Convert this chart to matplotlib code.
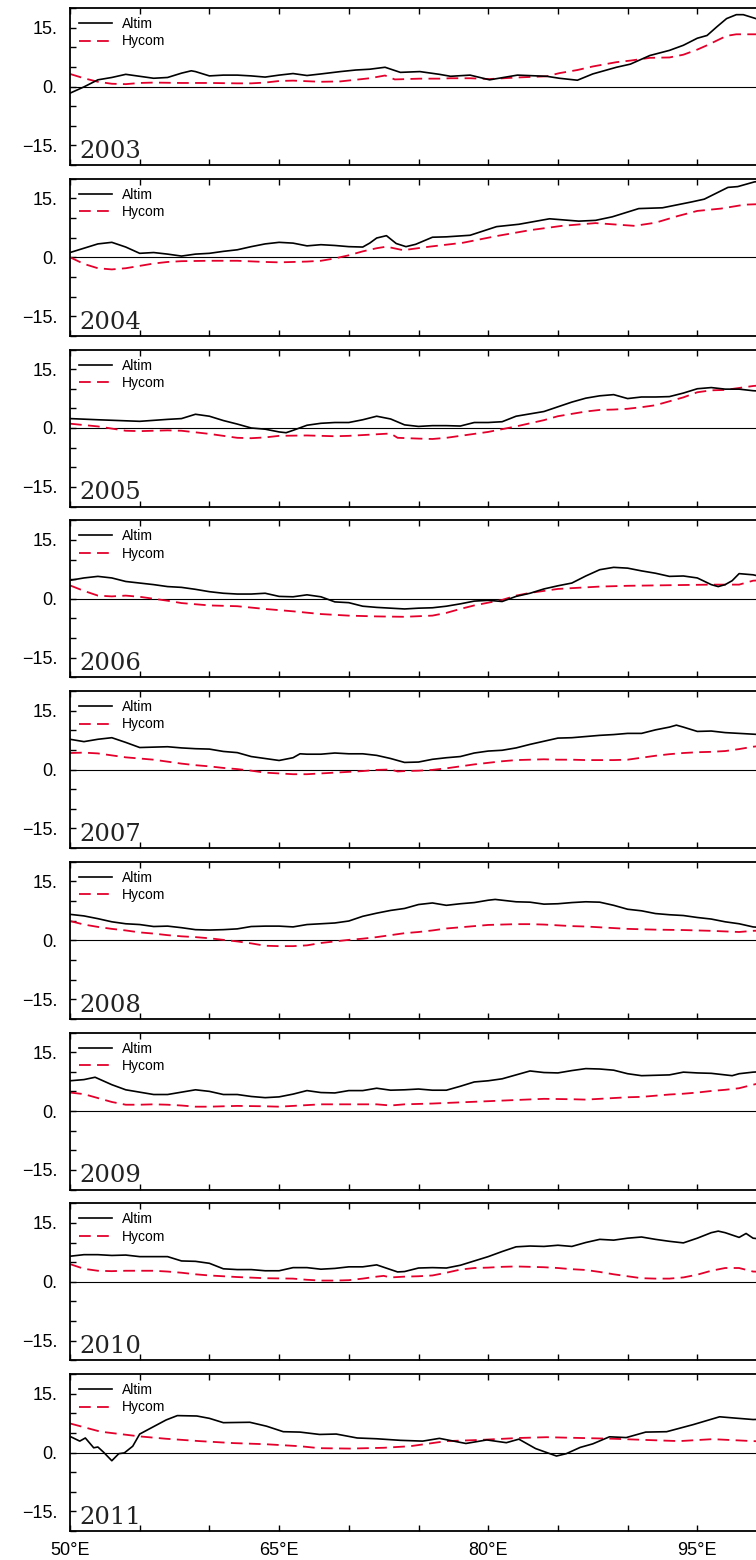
import matplotlib
matplotlib.use("Agg")
import matplotlib.pyplot as plt
from matplotlib.ticker import FixedLocator, MultipleLocator, NullFormatter

# ---------------- data ----------------
years = ["2003", "2004", "2005", "2006", "2007", "2008", "2009", "2010", "2011"]

alt03_lon = [50, 51, 52, 53, 54, 55, 56, 57, 58, 58.7, 59, 60, 61, 62, 63, 64, 65, 66, 67, 68,
             69.4, 70.5, 71.5, 72.6, 73.7, 75.1, 76.5, 77.3, 78.7, 80.1, 82.1, 84.2, 85.1, 86.4, 87.5,
             89.2, 90.2, 91.6, 93.0, 94.0, 95.0, 95.7, 96.4, 97.1, 97.8, 98.3, 99.2, 100]
alt03 = [-1.7, -0.1, 1.7, 2.3, 3.1, 2.6, 2.1, 2.3, 3.4, 4.0, 3.8, 2.7, 2.9, 2.9, 2.7, 2.4, 2.9, 3.3, 2.8, 3.2,
         3.8, 4.2, 4.4, 4.9, 3.6, 3.8, 3.1, 2.6, 2.9, 1.7, 2.9, 2.6, 2.1, 1.6, 3.2,
         4.9, 5.7, 7.9, 9.2, 10.5, 12.3, 13.0, 15.2, 17.3, 18.3, 18.3, 17.3, 16.5]
hyc03_lon = [50, 51, 52, 53, 54, 55, 56, 58, 60, 62, 63, 64, 65, 66, 68, 69.4, 71.5, 72.6, 73.3, 75.1,
             76.5, 77.3, 78.7, 80.1, 82.1, 84.2, 85.1, 86.4, 87.5, 89.2, 90.2, 91.6, 93.0, 94.0, 95.0,
             95.7, 96.4, 97.1, 97.8, 98.3, 99.2, 100]
hyc03 = [3.2, 2.1, 1.2, 0.7, 0.6, 0.9, 1.0, 0.9, 0.9, 0.8, 0.8, 1.0, 1.4, 1.5, 1.2, 1.3, 2.1, 2.8, 1.8, 2.0,
         2.0, 2.1, 2.1, 1.9, 2.3, 2.6, 3.4, 4.2, 5.1, 6.2, 6.6, 7.3, 7.4, 8.1, 9.4,
         10.5, 11.7, 12.9, 13.3, 13.3, 13.3, 13.3]

alt04_lon = [50, 51, 52, 53, 54, 55, 56, 57, 58, 59, 60, 61, 62, 63, 64, 65, 66, 67, 68, 69,
             70, 71, 71.5, 72, 72.7, 73.4, 74.1, 74.8, 76.0, 77.0, 78.7, 80.6, 82.2, 84.4, 86.5,
             87.7, 88.9, 90.8, 92.5, 94.6, 95.5, 97.2, 97.9, 99.1, 100]
alt04 = [1.2, 2.3, 3.4, 3.8, 2.6, 1.0, 1.2, 0.8, 0.3, 0.8, 1.0, 1.5, 1.9, 2.7, 3.4, 3.8, 3.6, 2.9, 3.2, 3.0,
         2.7, 2.6, 3.6, 4.9, 5.5, 3.5, 2.7, 3.3, 5.1, 5.2, 5.6, 7.8, 8.4, 9.8, 9.2,
         9.4, 10.3, 12.4, 12.6, 14.1, 14.8, 17.8, 18.0, 19.2, 19.5]
hyc04_lon = [50, 51, 52, 53, 54, 55, 56, 57, 58, 60, 62, 64, 65, 66, 67, 68, 69, 70, 71, 72,
             72.7, 73.9, 75.8, 78.2, 80.6, 83.0, 85.3, 87.7, 88.9, 90.5, 92.0, 93.6, 95.0, 96.7, 98.4, 100]
hyc04 = [0.0, -1.7, -2.8, -3.1, -2.8, -2.2, -1.6, -1.2, -1.0, -0.9, -0.9, -1.2, -1.3, -1.2, -1.1, -0.9, -0.3, 0.5, 1.5, 2.3,
         2.7, 1.8, 2.7, 3.7, 5.4, 6.9, 8.0, 8.7, 8.4, 8.0, 8.8, 10.5, 11.8, 12.4, 13.4, 13.6]

alt05_lon = [50, 52, 55, 57, 58, 59, 60, 61, 62, 63, 64, 65, 65.5, 66, 67, 68, 69, 70, 71, 72,
             73, 74, 75, 76, 77, 78, 79, 80, 81, 82, 83, 84, 85, 86, 87, 88, 89, 90, 91, 92,
             93, 94, 95, 96, 97, 98, 99, 100]
alt05 = [2.4, 2.1, 1.7, 2.2, 2.4, 3.5, 3.0, 1.9, 1.0, 0.0, -0.3, -1.0, -1.2, -0.6, 0.7, 1.2, 1.4, 1.4, 2.1, 3.0,
         2.3, 0.8, 0.4, 0.6, 0.6, 0.5, 1.4, 1.4, 1.6, 3.0, 3.6, 4.2, 5.4, 6.6, 7.6, 8.2, 8.5, 7.5, 7.9, 7.9,
         8.0, 8.9, 10.0, 10.3, 9.9, 9.9, 9.5, 9.3]
hyc05_lon = [50, 52, 54, 55, 57, 58, 60, 62, 63, 64, 65, 67, 69, 70, 72, 73, 73.5, 75, 76, 77,
             78, 79, 80, 81, 82, 83, 84, 85, 86, 87, 88, 89, 90, 91, 92, 93, 94, 95, 96, 97,
             98, 99, 100]
hyc05 = [1.1, 0.4, -0.7, -0.8, -0.6, -0.7, -1.5, -2.5, -2.6, -2.4, -2.0, -1.9, -2.1, -2.0, -1.6, -1.4, -2.5, -2.7, -2.8, -2.5,
         -2.0, -1.5, -1.0, -0.3, 0.4, 1.2, 2.0, 3.0, 3.6, 4.2, 4.6, 4.7, 4.9, 5.3, 5.8, 6.8, 7.8, 9.1, 9.6, 9.7,
         10.2, 10.7, 11.0]

alt06_lon = [50, 51, 52, 53, 54, 55, 56, 57, 58, 59, 60, 61, 62, 63, 64, 65, 66, 67, 68, 69,
             70, 71, 72, 73, 74, 75, 76, 77, 78, 79, 80, 81, 82, 83, 84, 85, 86, 87, 88, 89,
             90, 91, 92, 93, 94, 95, 96, 96.5, 97, 97.5, 98, 99, 100]
alt06 = [4.7, 5.3, 5.7, 5.3, 4.4, 4.0, 3.6, 3.1, 2.9, 2.4, 1.8, 1.4, 1.2, 1.2, 1.4, 0.6, 0.5, 1.0, 0.5, -0.8,
         -1.0, -1.9, -2.2, -2.4, -2.6, -2.4, -2.3, -1.9, -1.3, -0.6, -0.4, -0.7, 0.6, 1.4, 2.5, 3.3, 4.0, 5.8, 7.4, 8.0,
         7.8, 7.1, 6.5, 5.7, 5.8, 5.3, 3.6, 3.1, 3.6, 4.6, 6.4, 6.1, 5.3]
hyc06_lon = [50, 51, 52, 53, 54, 55, 56, 57, 58, 59, 60, 62, 64, 66, 68, 70, 72, 74, 76, 77,
             78, 79, 80, 81, 82, 83, 84, 85, 86, 88, 90, 92, 94, 96, 97, 98, 99, 100]
hyc06 = [3.4, 2.0, 0.8, 0.6, 0.8, 0.5, 0.0, -0.5, -1.1, -1.4, -1.7, -1.9, -2.6, -3.2, -3.9, -4.3, -4.5, -4.6, -4.3, -3.6,
         -2.6, -1.7, -1.0, -0.3, 0.8, 1.5, 2.0, 2.5, 2.7, 3.1, 3.3, 3.4, 3.5, 3.6, 3.6, 3.6, 4.6, 4.8]

alt07_lon = [50, 51, 52, 53, 54, 55, 56, 57, 58, 59, 60, 61, 62, 63, 64, 65, 66, 66.5, 67, 68,
             69, 70, 71, 72, 73, 74, 75, 76, 77, 78, 79, 80, 81, 82, 83, 84, 85, 86, 87, 88,
             89, 90, 91, 92, 93, 93.5, 94, 95, 96, 97, 98, 99, 100]
alt07 = [7.7, 7.1, 7.7, 8.1, 6.9, 5.6, 5.7, 5.8, 5.5, 5.3, 5.2, 4.6, 4.3, 3.3, 2.8, 2.3, 3.0, 4.0, 3.9, 3.9,
         4.2, 4.0, 4.0, 3.6, 2.8, 1.8, 1.9, 2.6, 3.0, 3.3, 4.2, 4.7, 4.9, 5.5, 6.4, 7.2, 8.0, 8.1, 8.4, 8.7,
         8.9, 9.2, 9.2, 10.1, 10.8, 11.3, 10.8, 9.7, 9.8, 9.4, 9.2, 9.0, 8.8]
hyc07_lon = [50, 51, 52, 53, 54, 55, 56, 57, 58, 59, 60, 61, 62, 63, 64, 65, 66, 67, 68, 69,
             70, 71, 72, 73, 73.5, 74, 75, 76, 77, 78, 79, 80, 81, 82, 83, 84, 85, 86, 87, 88,
             89, 90, 91, 92, 93, 94, 95, 96, 97, 98, 99, 100]
hyc07 = [4.2, 4.3, 4.1, 3.6, 3.1, 2.8, 2.5, 2.0, 1.5, 1.1, 0.8, 0.4, 0.1, -0.3, -0.8, -1.0, -1.2, -1.2, -1.0, -0.8,
         -0.6, -0.4, -0.1, 0.0, -0.5, -0.4, -0.3, -0.1, 0.3, 0.8, 1.3, 1.7, 2.1, 2.4, 2.5, 2.6, 2.5, 2.5, 2.4, 2.4,
         2.4, 2.5, 3.0, 3.5, 3.9, 4.2, 4.4, 4.5, 4.7, 5.2, 5.8, 6.2]

alt08_lon = [50, 51, 52, 53, 54, 55, 56, 57, 58, 59, 60, 61, 62, 63, 64, 65, 66, 67, 68, 69,
             70, 71, 72, 73, 74, 75, 76, 77, 78, 79, 80, 80.5, 81, 82, 83, 84, 85, 86, 87, 88,
             89, 90, 91, 92, 93, 94, 95, 96, 97, 98, 99, 100]
alt08 = [6.6, 6.2, 5.5, 4.7, 4.2, 4.0, 3.5, 3.6, 3.2, 2.7, 2.6, 2.7, 2.9, 3.5, 3.6, 3.6, 3.4, 4.0, 4.2, 4.4,
         4.9, 6.1, 6.9, 7.6, 8.1, 9.1, 9.5, 8.9, 9.3, 9.6, 10.2, 10.4, 10.2, 9.8, 9.7, 9.2, 9.3, 9.6, 9.8, 9.7,
         8.9, 7.9, 7.5, 6.8, 6.5, 6.3, 5.8, 5.4, 4.7, 4.2, 3.4, 3.1]
hyc08_lon = [50, 51, 52, 53, 54, 55, 56, 57, 58, 59, 60, 61, 62, 63, 64, 65, 66, 67, 68, 69,
             70, 71, 72, 73, 74, 75, 76, 77, 78, 79, 80, 81, 82, 83, 84, 85, 86, 87, 88, 89,
             90, 92, 94, 96, 98, 99, 100]
hyc08 = [4.9, 4.0, 3.4, 2.9, 2.5, 2.0, 1.7, 1.3, 1.0, 0.8, 0.5, 0.1, -0.3, -0.8, -1.4, -1.5, -1.5, -1.3, -0.7, -0.3,
         0.1, 0.4, 0.8, 1.3, 1.8, 2.1, 2.5, 3.0, 3.3, 3.6, 3.9, 4.0, 4.1, 4.1, 4.0, 3.8, 3.6, 3.5, 3.3, 3.1,
         2.9, 2.7, 2.6, 2.4, 2.1, 2.4, 2.5]

alt09_lon = [50, 51, 51.8, 53, 54, 55, 56, 57, 58, 59, 60, 61, 62, 63, 64, 65, 66, 67, 68, 69,
             70, 71, 72, 73, 74, 75, 76, 77, 78, 79, 80, 81, 82, 83, 84, 85, 86, 87, 88, 89,
             90, 91, 92, 93, 94, 95, 96, 97, 97.5, 98, 99, 100]
alt09 = [7.7, 8.0, 8.6, 6.7, 5.4, 4.8, 4.2, 4.2, 4.8, 5.4, 5.0, 4.2, 4.2, 3.7, 3.4, 3.6, 4.3, 5.2, 4.7, 4.6,
         5.2, 5.2, 5.8, 5.3, 5.4, 5.6, 5.3, 5.3, 6.3, 7.4, 7.7, 8.2, 9.2, 10.2, 9.8, 9.7, 10.3, 10.8, 10.7, 10.4,
         9.5, 9.0, 9.1, 9.2, 9.9, 9.7, 9.6, 9.2, 9.0, 9.5, 9.9, 10.1]
hyc09_lon = [50, 51, 52, 53, 54, 55, 56, 57, 58, 59, 60, 62, 64, 65, 66, 67, 68, 70, 72, 73,
             74, 76, 78, 80, 82, 84, 86, 87, 88, 89, 90, 91, 92, 93, 94, 95, 96, 97, 98, 99, 100]
hyc09 = [4.7, 4.3, 3.3, 2.3, 1.6, 1.6, 1.7, 1.6, 1.4, 1.1, 1.1, 1.3, 1.2, 1.1, 1.3, 1.5, 1.7, 1.7, 1.7, 1.4,
         1.7, 1.9, 2.2, 2.5, 2.8, 3.1, 3.0, 2.9, 3.1, 3.3, 3.5, 3.6, 3.9, 4.2, 4.4, 4.7, 5.1, 5.4, 5.8, 6.7, 7.5]

alt10_lon = [50, 51, 52, 53, 54, 55, 56, 57, 58, 59, 60, 61, 62, 63, 64, 65, 66, 67, 68, 69,
             70, 71, 72, 73, 73.5, 74, 75, 76, 77, 78, 79, 80, 81, 82, 83, 84, 85, 86, 87, 88,
             89, 90, 91, 92, 93, 94, 95, 96, 96.5, 97, 98, 98.5, 99, 100]
alt10 = [6.5, 6.9, 6.9, 6.7, 6.8, 6.4, 6.4, 6.4, 5.3, 5.2, 4.7, 3.3, 3.1, 3.1, 2.8, 2.8, 3.6, 3.6, 3.2, 3.4,
         3.8, 3.8, 4.3, 3.1, 2.5, 2.6, 3.5, 3.6, 3.5, 4.2, 5.3, 6.4, 7.7, 8.9, 9.1, 9.0, 9.3, 9.0, 10.0, 10.8,
         10.6, 11.1, 11.4, 10.8, 10.3, 9.9, 11.1, 12.5, 12.9, 12.5, 11.3, 12.3, 11.1, 10.7]
hyc10_lon = [50, 51, 52, 53, 54, 55, 56, 57, 58, 59, 60, 61, 62, 64, 66, 67, 68, 69, 70, 71,
             72, 72.5, 73, 74, 75, 76, 77, 78, 79, 80, 81, 82, 83, 84, 85, 86, 87, 88, 89, 90,
             91, 92, 93, 94, 95, 96, 97, 98, 99, 100]
hyc10 = [4.5, 3.3, 2.8, 2.7, 2.8, 2.8, 2.8, 2.6, 2.3, 1.9, 1.6, 1.4, 1.2, 0.9, 0.8, 0.5, 0.3, 0.3, 0.4, 0.8,
         1.3, 1.5, 1.1, 1.3, 1.4, 1.6, 2.3, 3.1, 3.5, 3.6, 3.8, 3.9, 3.8, 3.7, 3.5, 3.2, 3.0, 2.5, 1.9, 1.4,
         0.9, 0.8, 0.8, 1.1, 1.8, 2.8, 3.5, 3.5, 2.6, 2.5]

alt11_lon = [50.0, 50.7, 51.1, 51.7, 52.0, 52.4, 53.0, 53.5, 53.9, 54.5, 55.0, 56.0, 56.9, 57.7, 59.1, 60.0,
             61.0, 62.9, 64.1, 65.3, 66.5, 67.9, 69.1, 70.6, 72.0, 73.7, 75.3, 76.5, 78.4, 79.9, 81.3, 82.2,
             83.4, 84.9, 85.6, 86.6, 87.5, 88.7, 89.9, 91.3, 92.8, 94.7, 96.6, 97.6, 99.0, 100]
alt11 = [4.1, 2.9, 3.7, 1.2, 1.4, 0.1, -2.1, -0.3, -0.1, 1.6, 4.7, 6.6, 8.3, 9.4, 9.3, 8.7,
         7.6, 7.7, 6.7, 5.3, 5.2, 4.6, 4.7, 3.7, 3.5, 3.1, 2.9, 3.6, 2.3, 3.2, 2.5, 3.4,
         1.0, -0.9, -0.3, 1.3, 2.2, 4.0, 3.8, 5.2, 5.3, 7.1, 9.1, 8.8, 8.4, 8.5]
hyc11_lon = [50.0, 52.2, 55.0, 56.9, 59.3, 61.7, 64.1, 66.5, 67.9, 70.1, 72.5, 74.4, 77.0, 79.4, 82.2,
             84.2, 86.6, 89.0, 91.3, 93.7, 96.1, 99.0, 100]
hyc11 = [7.4, 5.3, 4.1, 3.5, 2.9, 2.4, 2.1, 1.6, 1.1, 1.0, 1.2, 1.6, 2.9, 3.2, 3.7,
         3.9, 3.7, 3.5, 3.2, 2.9, 3.4, 2.9, 2.8]

altim_lons = [alt03_lon, alt04_lon, alt05_lon, alt06_lon, alt07_lon, alt08_lon, alt09_lon, alt10_lon, alt11_lon]
altim_vals = [alt03, alt04, alt05, alt06, alt07, alt08, alt09, alt10, alt11]
hycom_lons = [hyc03_lon, hyc04_lon, hyc05_lon, hyc06_lon, hyc07_lon, hyc08_lon, hyc09_lon, hyc10_lon, hyc11_lon]
hycom_vals = [hyc03, hyc04, hyc05, hyc06, hyc07, hyc08, hyc09, hyc10, hyc11]

x_ticks = [50, 65, 80, 95]
x_ticklabels = ["50°E", "65°E", "80°E", "95°E"]
y_ticks = [-15, 0, 15]
y_ticklabels = ["\u221215.", "0.", "15."]

# ---------------- layout ----------------
W, H = 756, 1560
fig = plt.figure(figsize=(W / 100, H / 100), dpi=100)
fig.patch.set_facecolor("white")

left_px = 70
width_px = 697          # 50E..100E (right edge is outside the picture)
top0 = 8
pitch = 170.75
height_px = 157

RED = "#e3002b"
sans = ["Liberation Sans", "DejaVu Sans"]

for i, yr in enumerate(years):
    top = top0 + i * pitch
    ax = fig.add_axes([left_px / W, 1 - (top + height_px) / H, width_px / W, height_px / H])
    ax.set_xlim(50, 100)
    ax.set_ylim(-20, 20)

    ax.axhline(0, color="black", lw=0.8, zorder=1)
    ax.plot(altim_lons[i], altim_vals[i], color="black", lw=1.2, label="Altim", zorder=3)
    ax.plot(hycom_lons[i], hycom_vals[i], color=RED, lw=1.3, dashes=(6.5, 3.5), label="Hycom", zorder=2)

    for s in ax.spines.values():
        s.set_linewidth(1.3)
    ax.spines["right"].set_visible(False)

    ax.xaxis.set_major_locator(FixedLocator(x_ticks))
    ax.xaxis.set_minor_locator(MultipleLocator(5))
    ax.yaxis.set_major_locator(FixedLocator(y_ticks))
    ax.yaxis.set_minor_locator(MultipleLocator(5))
    ax.set_yticklabels(y_ticklabels, fontfamily=sans, fontsize=13)
    ax.tick_params(axis="both", which="both", direction="in", length=4, width=1.0,
                   top=True, bottom=True, left=True, right=False)
    ax.tick_params(axis="y", which="major", pad=9)
    if i == len(years) - 1:
        ax.set_xticklabels(x_ticklabels, fontfamily=sans, fontsize=13)
        ax.tick_params(axis="x", which="major", pad=8)
    else:
        ax.xaxis.set_major_formatter(NullFormatter())

    leg = ax.legend(loc="upper left", bbox_to_anchor=(0.0, 1.0), frameon=False,
                    prop={"family": sans, "size": 10}, handlelength=2.4,
                    handletextpad=0.7, labelspacing=0.25, borderaxespad=0.35, borderpad=0.3)

    ax.text(0.014, 0.045, yr, transform=ax.transAxes, fontsize=17.5,
            fontfamily=["DejaVu Serif"], va="baseline", ha="left", color="#222222")

fig.savefig("out.png", dpi=100)
